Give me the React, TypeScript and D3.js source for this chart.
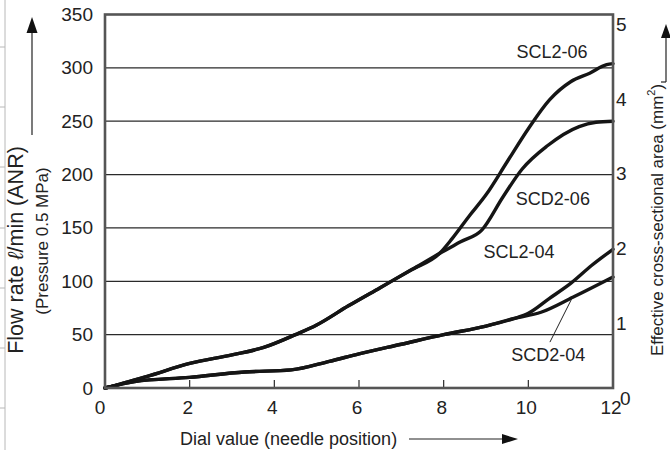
import React from 'react';
import * as d3 from 'd3';

// dial value (needle position) vs flow rate l/min (ANR)
const shared06Dial = [0, 1, 2, 3, 3.75, 4.5, 5, 5.75, 6.5, 7.25, 7.9];
const shared06Flow = [0, 11, 23, 31, 38, 50, 59, 77, 94, 111, 126];

const scl206Dial = [8.2, 8.6, 9, 9.5, 10, 10.5, 11, 11.45, 11.85, 12];
const scl206Flow = [140, 161, 181, 212, 243, 270, 287, 295, 303, 304];

const scd206Dial = [8.4, 8.9, 9.4, 9.85, 10.45, 11.2, 11.6, 12];
const scd206Flow = [137, 148, 179, 205, 227, 245, 249, 250];

const shared04Dial = [0, 0.7, 2, 3.3, 4.4, 5.3, 6, 7, 8, 9, 9.65];
const shared04Flow = [0, 6, 10, 15, 17, 25, 32, 41, 50, 58, 65];

const scl204Dial = [10, 10.5, 11, 11.5, 12];
const scl204Flow = [70, 84, 98, 115, 130];

const scd204Dial = [10.3, 11.05, 12];
const scd204Flow = [71, 85, 104];

const xTicks = [0, 2, 4, 6, 8, 10, 12];
const flowTicks = [0, 50, 100, 150, 200, 250, 300, 350];
const areaTicks = [0, 1, 2, 3, 4, 5];

const seriesNames = ['SCL2-06', 'SCD2-06', 'SCL2-04', 'SCD2-04'];
const labelDial = [10.56, 10.58, 9.78, 10.47];
const labelFlow = [315, 177, 127, 31];

const zip = (xs: number[], ys: number[]) => xs.map((x, i) => [x, ys[i]] as [number, number]);

const FONT = '"Liberation Sans", Arial, Helvetica, sans-serif';

export default function App() {
  const left = 105, right = 613, top = 14.5, bottom = 388;
  const x = d3.scaleLinear().domain([0, 12]).range([left, right]);
  const y = d3.scaleLinear().domain([0, 350]).range([bottom, top]);
  const yR = d3.scaleLinear().domain([0, 5]).range([bottom, top]);

  const line = d3.line<[number, number]>()
    .x(d => x(d[0]))
    .y(d => y(d[1]))
    .curve(d3.curveMonotoneX);

  const s06 = zip(shared06Dial, shared06Flow);
  const s04 = zip(shared04Dial, shared04Flow);
  const curves = [
    [...s06, ...zip(scl206Dial, scl206Flow)],
    [...s06, ...zip(scd206Dial, scd206Flow)],
    [...s04, ...zip(scl204Dial, scl204Flow)],
    [...s04, ...zip(scd204Dial, scd204Flow)],
  ];

  const sideTicks = [47, 107, 167, 228, 288, 348, 408];

  return (
    <svg width={670} height={450} style={{ position: 'absolute', left: 0, top: 0, background: '#fff' }}
      fontFamily={FONT}>
      {/* scan margin lines */}
      <line x1={5} x2={5} y1={0} y2={450} stroke="#b8b8b8" strokeWidth={1} />
      {sideTicks.map(t => (
        <line key={t} x1={0} x2={5} y1={t} y2={t} stroke="#b8b8b8" strokeWidth={1} />
      ))}

      {/* grid */}
      {flowTicks.slice(1, -1).map(t => (
        <line key={t} x1={left} x2={right} y1={y(t)} y2={y(t)} stroke="#2a2a2a" strokeWidth={1.2} />
      ))}
      {xTicks.slice(1, -1).map(t => (
        <line key={t} x1={x(t)} x2={x(t)} y1={bottom} y2={bottom - 8} stroke="#2a2a2a" strokeWidth={1.2} />
      ))}

      {/* curves */}
      {curves.map((c, i) => (
        <path key={i} d={line(c) || ''} fill="none" stroke="#151515" strokeWidth={3.4}
          strokeLinejoin="round" strokeLinecap="round" />
      ))}

      {/* frame */}
      <rect x={left} y={top} width={right - left} height={bottom - top} fill="none" stroke="#555" strokeWidth={2.6} />

      {/* leader for SCD2-04 */}
      <line x1={x(10.51)} y1={y(43)} x2={x(11.03)} y2={y(84)} stroke="#222" strokeWidth={1} />

      {seriesNames.map((n, i) => (
        <text key={n} x={x(labelDial[i])} y={y(labelFlow[i])} textAnchor="middle" dominantBaseline="central"
          fontSize={18} fill="#222">{n}</text>
      ))}

      {/* left axis labels */}
      {flowTicks.map(t => (
        <text key={t} x={93} y={y(t)} textAnchor="end" dominantBaseline="central" fontSize={19} fill="#222">{t}</text>
      ))}
      {/* right axis labels */}
      {areaTicks.map(t => (
        <text key={t} x={t === 0 ? 620 : 616} y={yR(t) + 10} dominantBaseline="central" fontSize={19} fill="#222">{t}</text>
      ))}
      {/* bottom labels */}
      {xTicks.map(t => (
        <text key={t} x={x(t) - (t === 0 ? 5 : 2)} y={407} textAnchor="middle" dominantBaseline="central" fontSize={19} fill="#222">{t}</text>
      ))}

      {/* x title with arrow */}
      <text x={180} y={439} dominantBaseline="central" fontSize={18} fill="#222">Dial value (needle position)</text>
      <line x1={409} x2={508} y1={439} y2={439} stroke="#222" strokeWidth={1.2} />
      <path d="M518,439 L502,434 L502,444 Z" fill="#111" />

      {/* left title with arrow */}
      <text transform="translate(16,250) rotate(-90)" textAnchor="middle" dominantBaseline="central"
        fontSize={21.5} fill="#222">
        Flow rate <tspan fontStyle="italic">ℓ</tspan>/min (ANR)
      </text>
      <text transform="translate(42,241) rotate(-90)" textAnchor="middle" dominantBaseline="central"
        fontSize={17} fill="#222">
        (Pressure 0.5 MPa)
      </text>
      <line x1={32} x2={32} y1={135} y2={30} stroke="#222" strokeWidth={1.2} />
      <path d="M32,17 L26.5,33 L37.5,33 Z" fill="#111" />

      {/* right title with arrow */}
      <text transform="translate(657,220) rotate(-90)" textAnchor="middle" dominantBaseline="central"
        fontSize={17} fill="#222">
        Effective cross-sectional area (mm<tspan fontSize={11} dy={-6}>2</tspan><tspan dy={6}>)</tspan>
      </text>
      <line x1={666} x2={666} y1={82} y2={36} stroke="#222" strokeWidth={1.2} />
      <line x1={661} x2={666} y1={82} y2={82} stroke="#222" strokeWidth={1.2} />
      <path d="M666,24 L661,38 L671,38 Z" fill="#111" />
    </svg>
  );
}
